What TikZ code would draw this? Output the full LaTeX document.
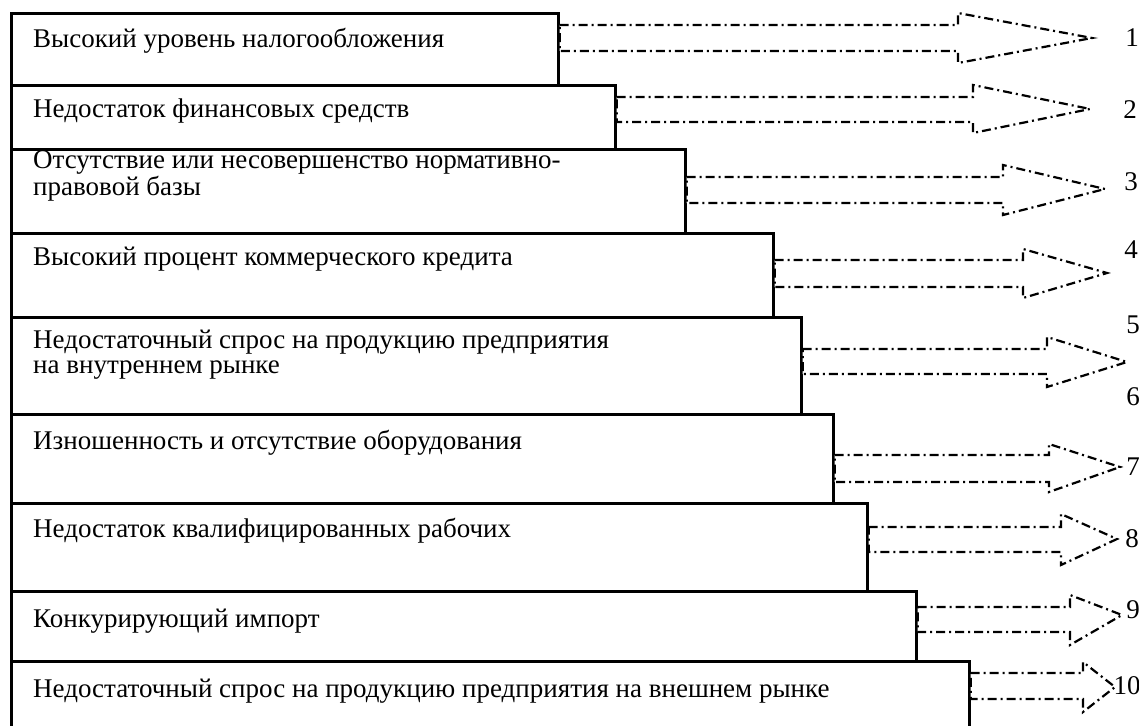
\documentclass[tikz,border=0pt]{standalone}
\usepackage{fontspec}
\setmainfont{Liberation Serif}

\tikzset{
  factor/.style={draw, line width=2.7pt, inner sep=0pt, anchor=north west},
  factortext/.style={anchor=base west, inner sep=0pt, align=left,
    font=\fontsize{27}{24.5}\selectfont},
  outflow/.style={draw, fill=white, line width=2.2pt,
    dash pattern=on 9pt off 4pt on 2pt off 4pt},
  num/.style={inner sep=0pt, font=\fontsize{27}{27}\selectfont}
}

\begin{document}
\begin{tikzpicture}[x=1pt,y=-1pt]
\path[use as bounding box, clip] (0,0) rectangle (1139,725);


% Stepped boxes, one per factor
\foreach \n/\yt/\w/\h in {1/12/547/72, 2/84/604/64, 3/148/674/84,
  4/232/762/84, 5/316/790/97, 6/413/822/89, 7/502/856/88,
  8/590/905/70, 9/660/958/90}
{
\node[factor, minimum width=\w pt, minimum height=\h pt] (b\n) at (10,\yt) {};
}


% Factor texts (two-line ones sit on their last baseline)
\node[factortext] (t1) at (33,48) {Высокий уровень налогообложения};
\node[factortext] (t2) at (33,117) {Недостаток финансовых средств};
\node[factortext] (t3) at (33,195) {Отсутствие или несовершенство нормативно-\\правовой базы};
\node[factortext] (t4) at (33,265) {Высокий процент коммерческого кредита};
\node[factortext] (t5) at (33,373) {Недостаточный спрос на продукцию предприятия\\на внутреннем рынке};
\node[factortext] (t6) at (33,449) {Изношенность и отсутствие оборудования};
\node[factortext] (t7) at (33,537) {Недостаток квалифицированных рабочих};
\node[factortext] (t8) at (33,627) {Конкурирующий импорт};
\node[factortext] (t9) at (33,697) {Недостаточный спрос на продукцию предприятия на внешнем рынке};


% Numbers on the right
\foreach \k/\x/\y in {1/1132/38, 2/1130/110, 3/1131/182, 4/1131/250,
  5/1133/325, 6/1133/397, 7/1133/467, 8/1132/539, 9/1133/610, 10/1127/686}
{
\node[num] (n\k) at (\x,\y) {\k};
}


% Hollow dash-dot arrows: shaft y's, barb x, barb y's, tip
\foreach \n/\ya/\yb/\xb/\ytop/\ybot/\xt/\yt in {
  1/25/51/958/13/63/1092/38,
  2/97/122/973/85/133/1090/109,
  3/177/203/1003/165/215/1105/189,
  4/260/287/1023/249/298/1107/273,
  5/349/374/1047/337/387/1127/362,
  6/455/482/1049/444/492/1120/467,
  7/527/552/1061/514/565/1117/539,
  8/607/632/1070/595/645/1122/615,
  9/673/699/1083/662/712/1115/687}
{
\coordinate (tip\n) at (\xt,\yt);
\draw[outflow] (b\n.east |- 0,\ya) -- (\xb,\ya) -- (\xb,\ytop) -- (tip\n)
  -- (\xb,\ybot) -- (\xb,\yb) -- (b\n.east |- 0,\yb) -- cycle;
}

\end{tikzpicture}
\end{document}
